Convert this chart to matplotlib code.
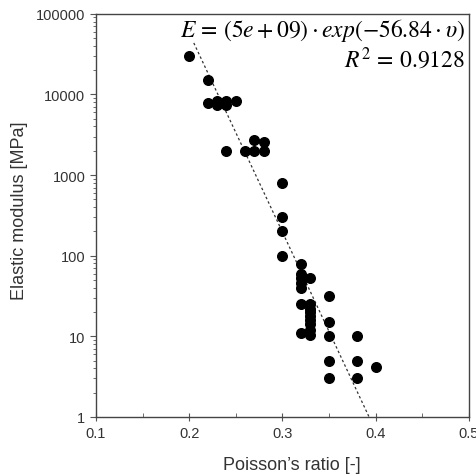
import numpy as np
import matplotlib
matplotlib.use("Agg")
import matplotlib.pyplot as plt
from matplotlib.ticker import MultipleLocator, LogLocator, NullFormatter

plt.rcParams['font.family'] = ['Liberation Sans', 'DejaVu Sans']
plt.rcParams['mathtext.fontset'] = 'stix'

# Poisson's ratio and elastic modulus [MPa]
poisson = [0.20, 0.22, 0.22, 0.23, 0.23, 0.24, 0.24, 0.25, 0.24, 0.26,
           0.27, 0.27, 0.28, 0.28, 0.30, 0.30, 0.30, 0.30, 0.32, 0.32,
           0.32, 0.32, 0.32, 0.33, 0.32, 0.33, 0.33, 0.33, 0.33, 0.33,
           0.33, 0.32, 0.33, 0.33, 0.35, 0.35, 0.35, 0.35, 0.35, 0.38,
           0.38, 0.38, 0.40]
modulus = [30000, 15000, 7800, 8400, 7300, 8400, 7300, 8300, 2000, 2000,
           2700, 2000, 2600, 2000, 800, 300, 200, 100, 78, 60,
           53, 46, 40, 53, 25, 25, 22, 20, 18, 16,
           14, 11, 12, 10.5, 32, 15, 10, 5, 3, 10,
           5, 3, 4.1]

# fitted exponential trend
fit_a = 5e9
fit_b = -56.84
fit_r2 = 0.9128

fig, ax = plt.subplots(figsize=(4.77, 4.77), dpi=100)
fig.subplots_adjust(left=0.201, right=0.983, top=0.969, bottom=0.124)

ax.scatter(poisson, modulus, s=48, color='black', zorder=3)

v_fit = np.linspace(0.205, 0.393, 100)
ax.plot(v_fit, fit_a * np.exp(fit_b * v_fit), color='#333333', lw=0.9,
        linestyle=(0, (2, 2)), zorder=2)

ax.set_yscale('log')
ax.set_xlim(0.1, 0.5)
ax.set_ylim(1, 100000)
ax.xaxis.set_minor_locator(MultipleLocator(0.05))
ax.set_xticks([0.1, 0.2, 0.3, 0.4, 0.5])
ax.set_xticklabels(['0.1', '0.2', '0.3', '0.4', '0.5'])
ax.set_yticks([1, 10, 100, 1000, 10000, 100000])
ax.set_yticklabels(['1', '10', '100', '1000', '10000', '100000'])
ax.yaxis.set_minor_locator(LogLocator(base=10, subs=np.arange(2, 10)))
ax.yaxis.set_minor_formatter(NullFormatter())

ax.tick_params(axis='x', which='major', direction='inout', length=6,
               labelsize=10.5, color='#555555', labelcolor='#333333')
ax.tick_params(axis='x', which='minor', direction='in', length=3, color='#555555')
ax.tick_params(axis='y', which='major', direction='out', length=4,
               labelsize=10.5, color='#555555', labelcolor='#333333')
ax.tick_params(axis='y', which='minor', direction='out', length=2, color='#555555')
for sp in ax.spines.values():
    sp.set_color('#444444')
    sp.set_linewidth(1.0)

ax.set_xlabel("Poisson’s ratio [-]", fontsize=13, color='#333333')
ax.xaxis.set_label_coords(0.525, -0.097)
ax.set_ylabel("Elastic modulus [MPa]", fontsize=13, color='#333333')
ax.yaxis.set_label_coords(-0.182, 0.514)

ax.text(0.99, 0.995, r'$E\,=\,(5e+09)\cdot exp(-56.84\cdot \upsilon)$',
        transform=ax.transAxes, ha='right', va='top', fontsize=17)
ax.text(0.99, 0.92, r'$R^2\,=\,0.9128$', transform=ax.transAxes,
        ha='right', va='top', fontsize=17)

fig.savefig('out.png', dpi=100)
